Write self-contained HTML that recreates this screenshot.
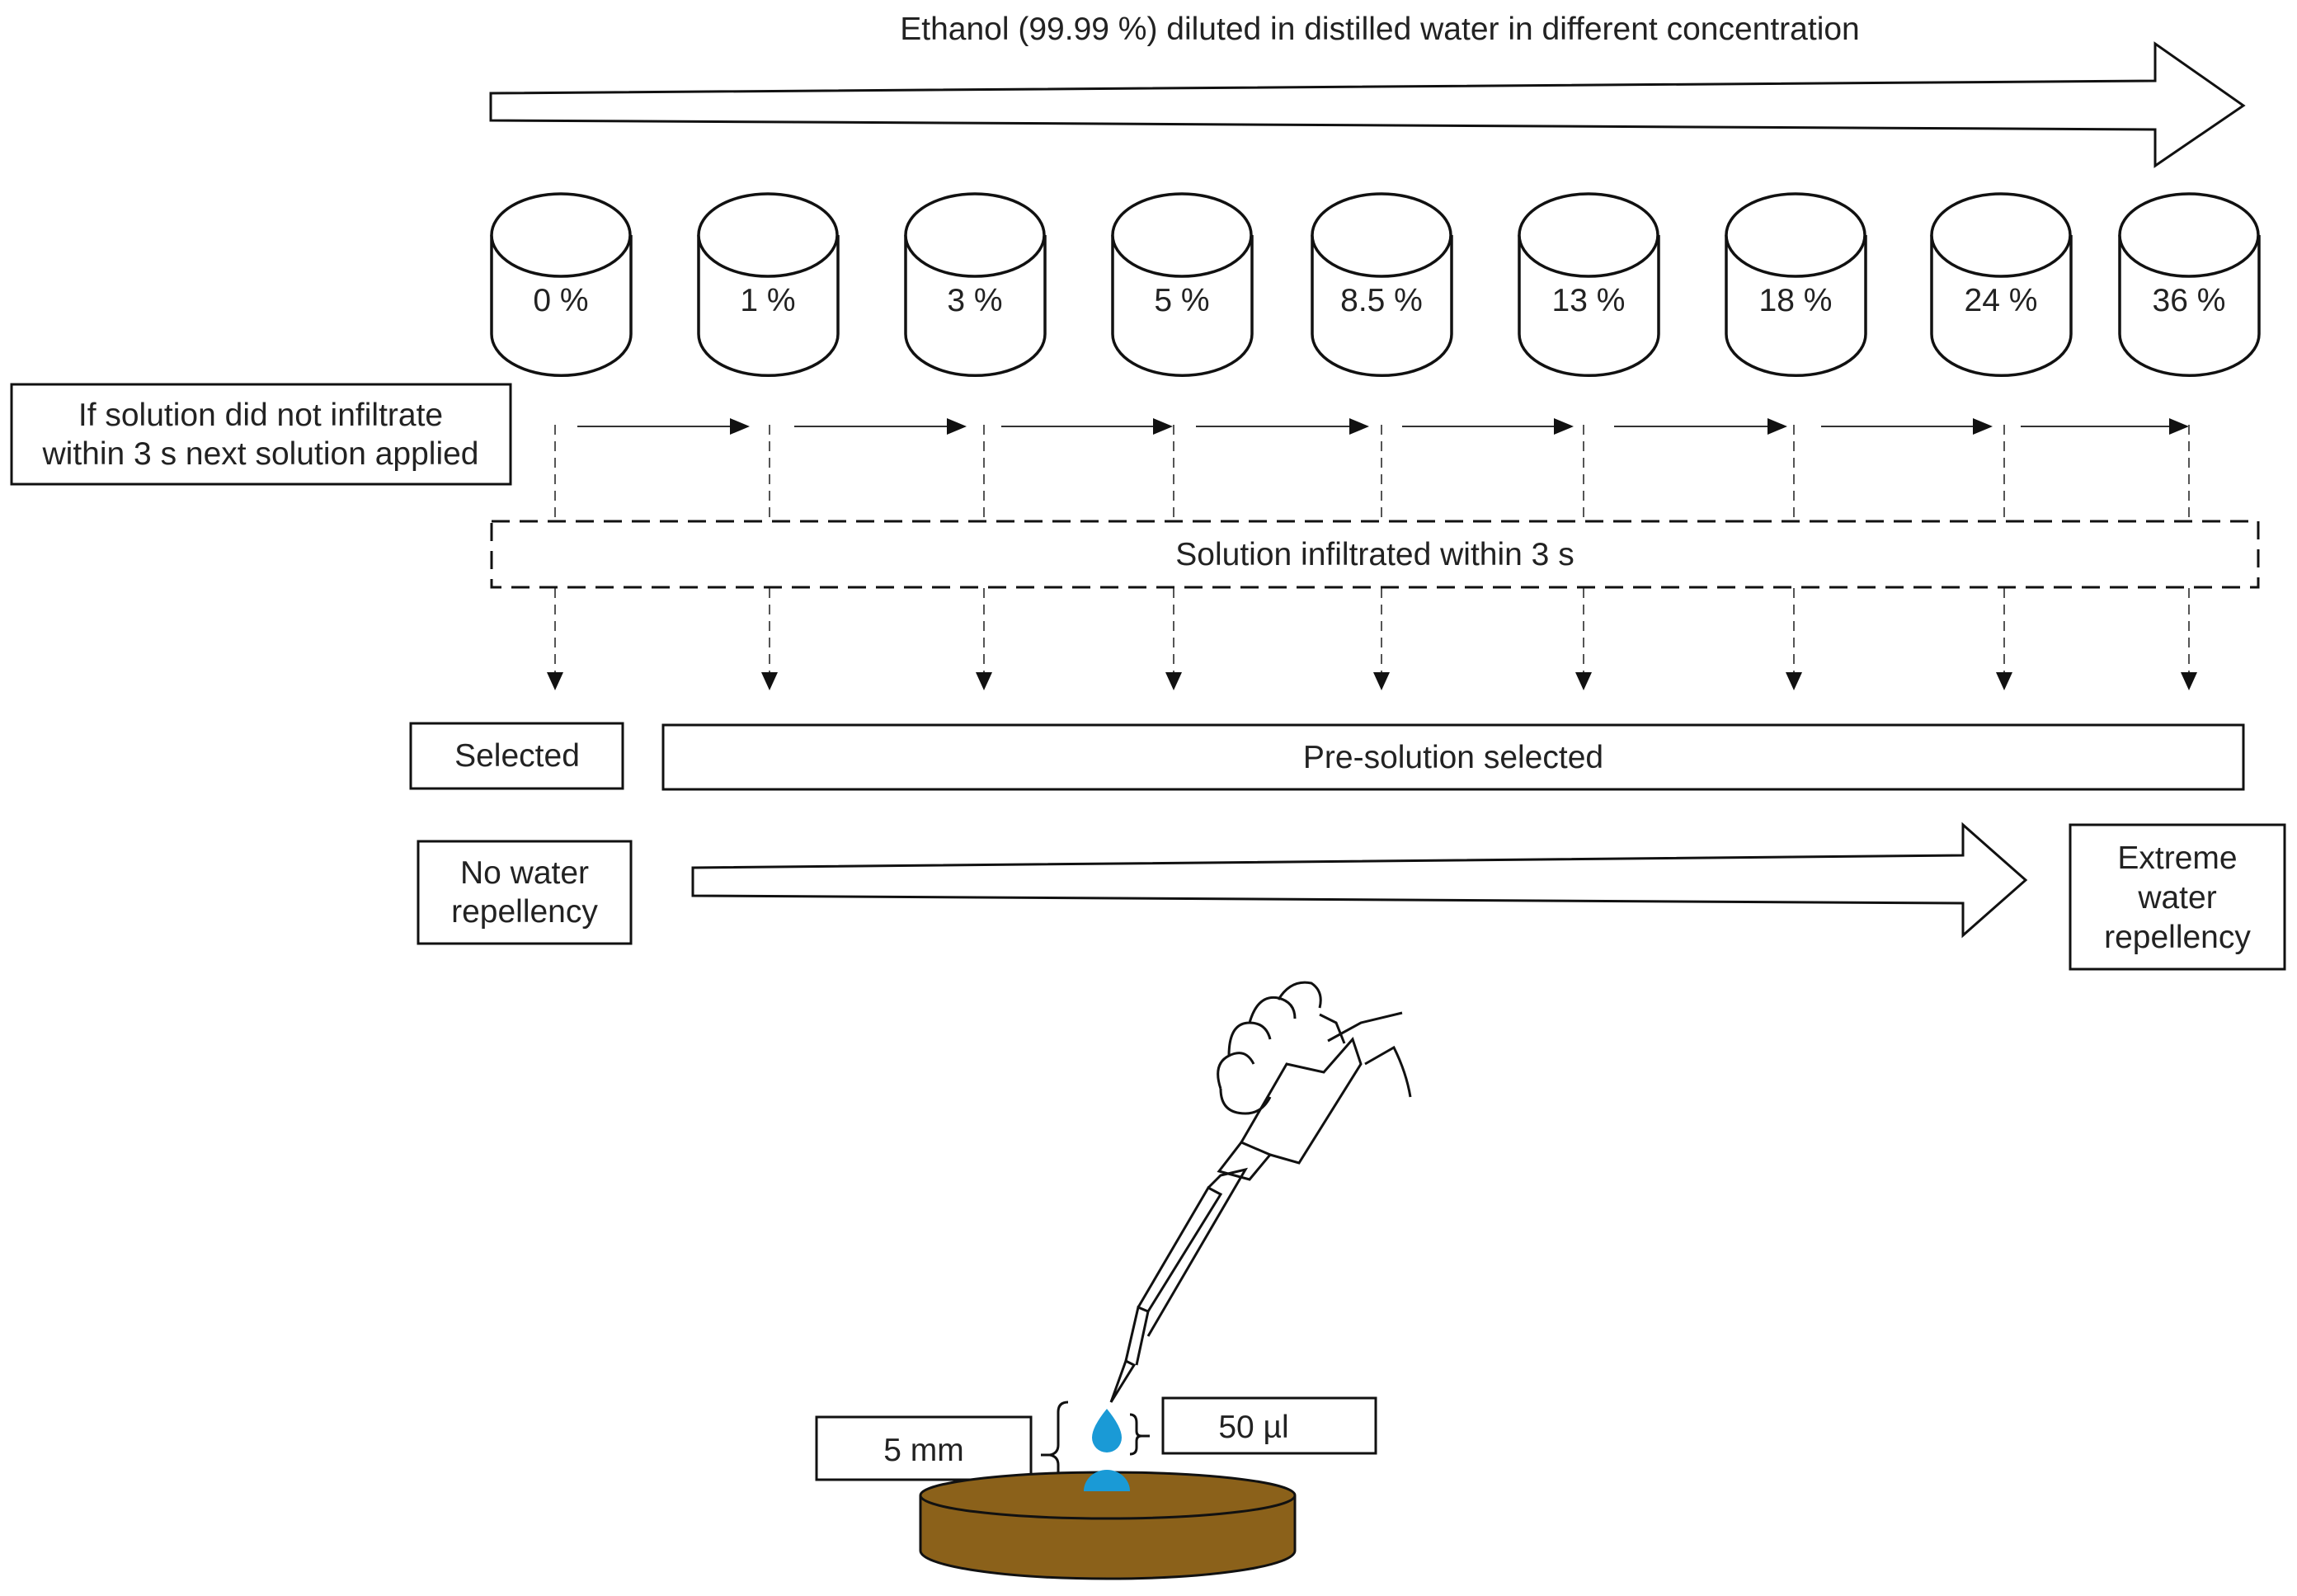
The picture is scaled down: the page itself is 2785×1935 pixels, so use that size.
<!DOCTYPE html>
<html><head><meta charset="utf-8"><style>html,body{margin:0;padding:0;background:#fff}svg{display:block}</style></head><body>
<svg width="2785" height="1935" viewBox="0 0 2785 1935" xmlns="http://www.w3.org/2000/svg" font-family="Liberation Sans, Arial, sans-serif" fill="none" stroke="#111">
<text x="1673" y="48" font-size="39" fill="#222" stroke="none" text-anchor="middle">Ethanol (99.99 %) diluted in distilled water in different concentration</text>
<path d="M595,113 L2613,98 L2613,53 L2720,128 L2613,201 L2613,157 L595,146 Z" stroke-width="3"/>
<g stroke-width="3.5" fill="#fff">
<path d="M596,285 v120 a84,50 0 0 0 169,0 v-120"/><ellipse cx="680" cy="285" rx="84" ry="50"/>
<path d="M847,285 v120 a84,50 0 0 0 169,0 v-120"/><ellipse cx="931" cy="285" rx="84" ry="50"/>
<path d="M1098,285 v120 a84,50 0 0 0 169,0 v-120"/><ellipse cx="1182" cy="285" rx="84" ry="50"/>
<path d="M1349,285 v120 a84,50 0 0 0 169,0 v-120"/><ellipse cx="1433" cy="285" rx="84" ry="50"/>
<path d="M1591,285 v120 a84,50 0 0 0 169,0 v-120"/><ellipse cx="1675" cy="285" rx="84" ry="50"/>
<path d="M1842,285 v120 a84,50 0 0 0 169,0 v-120"/><ellipse cx="1926" cy="285" rx="84" ry="50"/>
<path d="M2093,285 v120 a84,50 0 0 0 169,0 v-120"/><ellipse cx="2177" cy="285" rx="84" ry="50"/>
<path d="M2342,285 v120 a84,50 0 0 0 169,0 v-120"/><ellipse cx="2426" cy="285" rx="84" ry="50"/>
<path d="M2570,285 v120 a84,50 0 0 0 169,0 v-120"/><ellipse cx="2654" cy="285" rx="84" ry="50"/>
</g>
<g font-size="39" fill="#222" stroke="none" text-anchor="middle">
<text x="680" y="377">0 %</text><text x="931" y="377">1 %</text><text x="1182" y="377">3 %</text><text x="1433" y="377">5 %</text><text x="1675" y="377">8.5 %</text><text x="1926" y="377">13 %</text><text x="2177" y="377">18 %</text><text x="2426" y="377">24 %</text><text x="2654" y="377">36 %</text>
</g>
<rect x="14" y="466" width="605" height="121" stroke-width="3"/>
<g font-size="39" fill="#222" stroke="none" text-anchor="middle">
<text x="316" y="516">If solution did not infiltrate</text>
<text x="316" y="563">within 3 s next solution applied</text>
</g>
<g stroke-width="2" stroke="#333">
<path d="M700,517 H900 M963,517 H1163 M1214,517 H1410 M1450,517 H1648 M1700,517 H1896 M1957,517 H2155 M2208,517 H2404 M2450,517 H2640"/>
</g>
<g fill="#111" stroke="none">
<path d="M885,507 L909,517 L885,527Z M1148,507 L1172,517 L1148,527Z M1398,507 L1422,517 L1398,527Z M1636,507 L1660,517 L1636,527Z M1884,507 L1908,517 L1884,527Z M2143,507 L2167,517 L2143,527Z M2392,507 L2416,517 L2392,527Z M2630,507 L2654,517 L2630,527Z"/>
</g>
<g stroke-width="2" stroke="#555" stroke-dasharray="12,8">
<path d="M673,515 V632 M933,515 V632 M1193,515 V632 M1423,515 V632 M1675,515 V632 M1920,515 V632 M2175,515 V632 M2430,515 V632 M2654,515 V632"/>
<path d="M673,713 V815 M933,713 V815 M1193,713 V815 M1423,713 V815 M1675,713 V815 M1920,713 V815 M2175,713 V815 M2430,713 V815 M2654,713 V815"/>
</g>
<g fill="#111" stroke="none">
<path d="M663,815 L683,815 L673,837Z M923,815 L943,815 L933,837Z M1183,815 L1203,815 L1193,837Z M1413,815 L1433,815 L1423,837Z M1665,815 L1685,815 L1675,837Z M1910,815 L1930,815 L1920,837Z M2165,815 L2185,815 L2175,837Z M2420,815 L2440,815 L2430,837Z M2644,815 L2664,815 L2654,837Z"/>
</g>
<rect x="596" y="632" width="2142" height="80" stroke-width="3" stroke-dasharray="22,12"/>
<text x="1667" y="685" font-size="39" fill="#222" stroke="none" text-anchor="middle">Solution infiltrated within 3 s</text>
<rect x="498" y="877" width="257" height="79" stroke-width="3"/>
<text x="627" y="929" font-size="39" fill="#222" stroke="none" text-anchor="middle">Selected</text>
<rect x="804" y="879" width="1916" height="78" stroke-width="3"/>
<text x="1762" y="931" font-size="39" fill="#222" stroke="none" text-anchor="middle">Pre-solution selected</text>
<rect x="507" y="1020" width="258" height="124" stroke-width="3"/>
<text x="636" y="1071" font-size="39" fill="#222" stroke="none" text-anchor="middle">No water</text>
<text x="636" y="1118" font-size="39" fill="#222" stroke="none" text-anchor="middle">repellency</text>
<path d="M840,1052 L2380,1037 L2380,1000 L2456,1067 L2380,1134 L2380,1095 L840,1086 Z" stroke-width="3"/>
<rect x="2510" y="1000" width="260" height="175" stroke-width="3"/>
<g font-size="39" fill="#222" stroke="none" text-anchor="middle">
<text x="2640" y="1053">Extreme</text><text x="2640" y="1101">water</text><text x="2640" y="1149">repellency</text>
</g>
<g stroke-width="3">
<path d="M1347,1700 L1365,1650 L1375,1655 Z"/>
<path d="M1365,1650 L1380,1585 L1392,1590 L1378,1655"/>
<path d="M1380,1585 L1465,1440 L1480,1448 L1392,1590"/>
<path d="M1465,1440 L1480,1425 L1510,1418 L1392,1620"/>
<path d="M1478,1420 L1505,1385 L1540,1400 L1515,1430 Z"/>
<path d="M1505,1385 L1560,1290 L1605,1300 L1640,1260 L1650,1290 L1575,1410 L1540,1400"/>
<path d="M1480,1320 q-10,-30 10,-40 q20,-10 30,10 M1490,1280 q0,-40 25,-40 q20,0 25,20 M1515,1240 q10,-35 35,-30 q20,5 20,25 M1550,1212 q15,-25 40,-20 q15,10 10,30 M1480,1320 q0,30 30,30 q20,0 30,-20"/>
<path d="M1610,1262 L1650,1240 L1700,1228 M1655,1290 L1690,1270 q15,30 20,60"/>
<path d="M1600,1230 l20,10 l10,25" />
</g>
<path d="M1295,1700 q-12,0 -12,12 v40 q0,10 -10,12 q10,2 10,12 v35 q0,10 12,10" stroke-width="3"/>
<path d="M1262,1764 H1273" stroke-width="3"/>
<path d="M1370,1715 q8,0 8,10 v10 q0,6 6,6 h10 M1384,1741 q-6,0 -6,6 v8 q0,8 -8,8" stroke-width="3"/>
<path d="M1342,1708 q-18,22 -18,35 a18,18 0 0 0 36,0 q0,-13 -18,-35 Z" fill="#1a9ad6" stroke="none"/>
<rect x="990" y="1718" width="260" height="76" stroke-width="3" fill="#fff"/>
<text x="1120" y="1771" font-size="39" fill="#222" stroke="none" text-anchor="middle">5 mm</text>
<rect x="1410" y="1695" width="258" height="67" stroke-width="3"/>
<text x="1520" y="1743" font-size="39" fill="#222" stroke="none" text-anchor="middle">50 µl</text>
<path d="M1116,1813 V1880 A227,34 0 0 0 1570,1880 V1813" fill="#8b611a" stroke-width="3"/>
<ellipse cx="1343" cy="1813" rx="227" ry="28" fill="#8b611a" stroke-width="3"/>
<path d="M1314,1808 a28,26 0 0 1 56,0 Z" fill="#1a9ad6" stroke="none"/>
</svg>
</body></html>
